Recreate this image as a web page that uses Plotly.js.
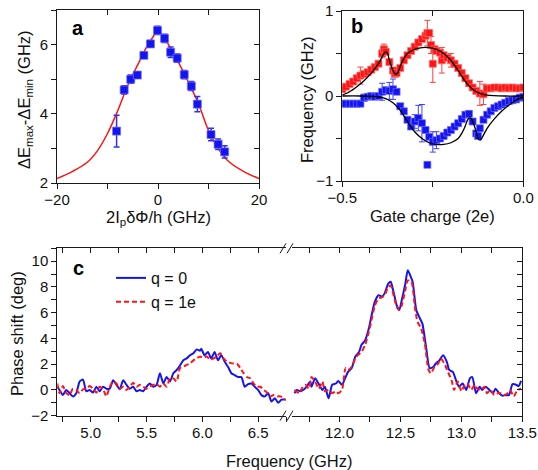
<!DOCTYPE html>
<html><head><meta charset="utf-8">
<script src="https://cdn.plot.ly/plotly-3.0.1.min.js"></script>
<style>html,body{margin:0;padding:0;background:#fff}</style>
</head><body><div id="chart" style="width:538px;height:470px"></div>
<script>
// ---------- Panel a ----------
const aFlux = [-8.2,-6.7,-5.4,-4.1,-2.8,-1.5,-0.1,1.3,2.5,3.8,5.2,6.6,7.8,10.5,11.9,13.2];
const aGap  = [3.50,4.69,5.00,5.12,5.69,6.02,6.41,6.18,5.78,5.61,5.13,4.80,4.28,3.40,3.12,2.90];
const aErr  = [0.46,0.12,0.12,0.08,0.08,0.10,0.12,0.12,0.15,0.12,0.12,0.13,0.22,0.18,0.15,0.18];
const aFitX = [-20,-17,-14,-12,-10,-8,-6,-4,-2,-1,0,1,2,4,6,8,10,12,14,17,20];
const aFitY = [2.13,2.33,2.60,2.93,3.43,4.08,4.82,5.42,6.00,6.22,6.42,6.22,6.02,5.50,4.92,4.30,3.52,2.98,2.62,2.33,2.13];

// ---------- Panel b ----------
const bRedX = [-0.50,-0.49,-0.48,-0.47,-0.46,-0.45,-0.44,-0.43,-0.42,-0.41,-0.40,-0.39,-0.385,-0.38,-0.37,-0.36,-0.355,-0.35,-0.34,-0.33,-0.32,-0.31,-0.30,-0.29,-0.28,-0.27,-0.265,-0.26,-0.255,-0.25,-0.245,-0.24,-0.23,-0.225,-0.22,-0.21,-0.20,-0.19,-0.18,-0.17,-0.16,-0.15,-0.14,-0.13,-0.12,-0.11,-0.10,-0.09,-0.08,-0.07,-0.06,-0.05,-0.04,-0.03,-0.02,-0.01,0.00];
const bRedY = [0.08,0.11,0.14,0.17,0.21,0.24,0.26,0.28,0.31,0.34,0.38,0.50,0.55,0.52,0.40,0.30,0.26,0.27,0.33,0.42,0.48,0.53,0.58,0.63,0.67,0.71,0.74,0.74,0.60,0.38,0.55,0.53,0.51,0.42,0.48,0.45,0.42,0.38,0.33,0.27,0.21,0.15,0.10,0.06,0.03,0.02,0.09,0.09,0.10,0.10,0.09,0.10,0.09,0.10,0.09,0.09,0.10];
const bRedErr = [0.03,0.03,0.03,0.03,0.03,0.10,0.03,0.03,0.03,0.03,0.03,0.05,0.06,0.03,0.03,0.03,0.03,0.03,0.03,0.03,0.03,0.03,0.03,0.03,0.03,0.03,0.15,0.03,0.10,0.22,0.03,0.03,0.03,0.15,0.03,0.03,0.08,0.03,0.03,0.03,0.03,0.03,0.03,0.03,0.14,0.12,0.03,0.03,0.03,0.03,0.03,0.03,0.03,0.03,0.03,0.03,0.03];
const bBlueX = [-0.50,-0.49,-0.48,-0.47,-0.46,-0.45,-0.44,-0.43,-0.42,-0.41,-0.40,-0.39,-0.38,-0.37,-0.36,-0.35,-0.34,-0.33,-0.32,-0.31,-0.30,-0.29,-0.28,-0.27,-0.265,-0.26,-0.25,-0.24,-0.23,-0.22,-0.21,-0.20,-0.19,-0.18,-0.17,-0.16,-0.15,-0.14,-0.13,-0.125,-0.12,-0.11,-0.10,-0.09,-0.08,-0.07,-0.06,-0.05,-0.04,-0.03,-0.02,-0.01,0.00];
const bBlueY = [-0.09,-0.09,-0.09,-0.09,-0.09,-0.09,-0.02,-0.01,0.00,-0.01,0.00,0.05,0.07,0.06,0.08,0.05,-0.12,-0.18,-0.28,-0.36,-0.30,-0.26,-0.32,-0.40,-0.81,-0.48,-0.54,-0.52,-0.50,-0.47,-0.43,-0.40,-0.36,-0.32,-0.27,-0.22,-0.21,-0.30,-0.44,-0.47,-0.38,-0.28,-0.22,-0.18,-0.14,-0.12,-0.10,-0.08,-0.06,-0.05,-0.04,-0.02,-0.01];
const bBlueErr = [0.02,0.02,0.02,0.02,0.02,0.02,0.04,0.03,0.03,0.03,0.03,0.10,0.03,0.10,0.12,0.03,0.03,0.03,0.03,0.03,0.08,0.15,0.22,0.03,0.00,0.03,0.12,0.10,0.03,0.03,0.03,0.03,0.03,0.03,0.03,0.03,0.03,0.03,0.03,0.03,0.03,0.03,0.03,0.03,0.03,0.03,0.03,0.03,0.03,0.03,0.03,0.03,0.03];
const bFitUpX = [-0.50,-0.48,-0.46,-0.44,-0.42,-0.40,-0.39,-0.385,-0.38,-0.375,-0.37,-0.36,-0.355,-0.35,-0.345,-0.34,-0.33,-0.32,-0.30,-0.28,-0.26,-0.24,-0.22,-0.20,-0.18,-0.16,-0.14,-0.12,-0.10,-0.05,0.00];
const bFitUpY = [0.01,0.05,0.11,0.18,0.27,0.38,0.46,0.50,0.52,0.50,0.42,0.30,0.26,0.26,0.29,0.35,0.44,0.50,0.55,0.57,0.57,0.55,0.50,0.42,0.30,0.17,0.08,0.03,0.01,0.00,0.00];
const bFitLoX = [-0.50,-0.45,-0.40,-0.38,-0.36,-0.34,-0.32,-0.30,-0.28,-0.26,-0.24,-0.22,-0.20,-0.18,-0.17,-0.16,-0.155,-0.15,-0.145,-0.14,-0.13,-0.125,-0.12,-0.115,-0.11,-0.10,-0.08,-0.06,-0.04,-0.02,0.00];
const bFitLoY = [0.00,0.00,-0.01,-0.03,-0.08,-0.17,-0.30,-0.42,-0.50,-0.55,-0.57,-0.57,-0.55,-0.50,-0.44,-0.35,-0.29,-0.26,-0.26,-0.30,-0.42,-0.50,-0.52,-0.50,-0.46,-0.38,-0.27,-0.18,-0.11,-0.05,-0.01];

// ---------- Panel c ----------
const cFreqBlueLow = [4.70,4.72,4.75,4.78,4.81,4.84,4.87,4.90,4.93,4.96,4.99,5.02,5.05,5.08,5.11,5.14,5.17,5.20,5.23,5.26,5.29,5.32,5.35,5.38,5.41,5.44,5.47,5.50,5.53,5.56,5.59,5.62,5.65,5.68,5.71,5.74,5.77,5.80,5.83,5.86,5.89,5.92,5.95,5.98,5.99,6.02,6.05,6.08,6.11,6.14,6.17,6.20,6.23,6.26,6.29,6.32,6.35,6.38,6.41,6.44,6.47,6.50,6.53,6.56,6.59,6.62,6.65,6.68,6.71,6.74];
const cPhaseBlueLow = [0.25,0,-0.4,0,-0.25,-0.5,-0.25,0.65,0.8,-0.1,0,-0.2,0.25,-0.1,0.25,0.1,0.1,0.75,0.4,0.05,0.75,0.4,0.1,0.25,-0.1,0,-0.1,0.25,0.5,0.25,0.4,1.3,0.5,1.0,0.65,1.3,1.55,1.9,2.3,2.45,2.7,2.85,3.15,3.05,3.2,2.7,2.95,2.45,2.95,2.3,2.7,2.2,1.8,1.3,1.15,1.0,1.0,0.25,0.45,0.5,0.25,0,-0.4,-0.5,-0.25,-0.9,-0.65,-1.0,-0.75,-0.75];
const cFreqRedLow = [4.70,4.72,4.75,4.78,4.81,4.84,4.87,4.90,4.93,4.96,4.99,5.02,5.05,5.08,5.11,5.14,5.17,5.20,5.23,5.26,5.29,5.32,5.35,5.38,5.41,5.44,5.47,5.50,5.53,5.56,5.59,5.62,5.65,5.68,5.71,5.74,5.77,5.80,5.83,5.86,5.89,5.92,5.95,5.98,6.01,6.04,6.07,6.10,6.13,6.16,6.19,6.22,6.25,6.28,6.31,6.34,6.37,6.40,6.43,6.46,6.49,6.52,6.55,6.58,6.61,6.64,6.67,6.70,6.73,6.75];
const cPhaseRedLow = [0.5,-0.25,0.3,-0.25,-0.4,0.1,0,-0.25,0.05,0.1,0.3,0.1,-0.2,0.25,0.05,-0.5,0.25,0.65,0.5,0.1,0.25,0,0.25,0.55,0.25,0.4,0.25,0.1,0.25,0.4,0.45,0.25,0.5,0.25,0.9,0.9,0.65,1.7,1.8,1.95,2.05,2.3,2.45,2.6,2.5,2.6,2.35,2.45,2.6,2.85,2.45,2.2,2.1,2.05,2.05,1.7,1.3,1.0,0.9,0.5,0.25,0.25,0,-0.2,-0.5,-0.4,-0.5,-0.5,-0.65,-0.8];
const cFreqBlueHigh = [11.63,11.65,11.68,11.71,11.73,11.76,11.77,11.80,11.83,11.86,11.88,11.91,11.94,11.97,11.99,12.02,12.05,12.07,12.10,12.13,12.16,12.18,12.21,12.24,12.26,12.29,12.32,12.35,12.37,12.40,12.42,12.44,12.47,12.49,12.51,12.54,12.56,12.58,12.60,12.63,12.66,12.68,12.71,12.74,12.77,12.79,12.82,12.85,12.88,12.90,12.93,12.96,12.98,13.01,13.04,13.07,13.09,13.12,13.15,13.17,13.20,13.23,13.26,13.28,13.31,13.34,13.36,13.39,13.42,13.45,13.47,13.49];
const cPhaseBlueHigh = [-0.25,0,-0.1,0.05,0.25,0.65,0.25,0.9,0.45,0,0.25,-0.65,0.4,0.5,0.7,0.4,1.0,1.4,1.7,2.6,2.95,3.5,3.85,4.75,5.65,6.85,7.35,7.25,7.5,8.25,8.4,7.75,6.55,6.2,6.95,8.25,9.3,8.9,8.4,6.2,5.55,5.15,3.35,1.7,1.8,2.05,2.3,2.7,2.2,1.55,1.4,0.65,0.25,0.5,0,0.9,1.0,-0.25,0.25,0,0.25,0,-0.25,0.1,-0.25,-0.45,-0.4,-0.4,0.45,0.4,0.3,0.7];
const cFreqRedHigh = [11.63,11.67,11.69,11.72,11.75,11.77,11.80,11.83,11.86,11.88,11.91,11.94,11.97,11.99,12.02,12.05,12.07,12.10,12.13,12.15,12.18,12.21,12.24,12.26,12.29,12.32,12.35,12.37,12.40,12.42,12.44,12.47,12.49,12.51,12.54,12.56,12.59,12.62,12.64,12.67,12.70,12.73,12.75,12.78,12.81,12.83,12.86,12.89,12.92,12.94,12.97,13.00,13.02,13.05,13.08,13.11,13.13,13.16,13.19,13.21,13.24,13.27,13.30,13.32,13.35,13.38,13.40,13.43,13.46,13.49];
const cPhaseRedHigh = [0,-0.25,0.1,0.4,0.1,1.0,0.65,0.1,0.65,-0.1,0,-0.25,-0.1,-0.25,0,1.7,1.55,1.8,2.45,2.7,2.95,3.5,4.5,5.3,6.55,7.1,7.2,7.35,8.0,8.1,7.5,6.45,6.2,6.55,7.75,8.5,8.4,6.3,5.3,4.75,3.6,1.55,1.3,1.8,2.05,2.45,2.05,1.4,0.75,0,0.65,-0.1,0.25,0.5,0,0.4,0.1,0,0.25,-0.25,0,-0.4,-0.25,-0.25,-0.4,-0.25,0,-0.5,0,0.1];
const legendNames = ['q = 0', 'q = 1e'];

// ---------- helpers (layout only) ----------
const W = 538, H = 470;
const fx = p => p / W;
const fy = p => 1 - p / H;
const FONT = 'Liberation Sans, Arial, sans-serif';
const INK = '#1a1a1a';
function ax(o) {
  return Object.assign({
    showline: true, linecolor: INK, linewidth: 1, ticks: 'outside', ticklen: 5, tickwidth: 1,
    tickcolor: INK, tickfont: {family: FONT, size: 15, color: '#111'}, showgrid: false,
    zeroline: false, fixedrange: true
  }, o);
}
function inner(o) {
  return Object.assign({
    showline: false, ticks: 'inside', ticklen: 5, tickwidth: 1, tickcolor: INK,
    showticklabels: false, showgrid: false, zeroline: false, fixedrange: true
  }, o);
}
// carrier trace so that a tick-only overlay axis gets drawn (nothing visible)
function carrier(xs, ys, xa, ya) {
  return {x: xs, y: ys, xaxis: xa, yaxis: ya, mode: 'lines', opacity: 0, line: {width: 0.1, color: 'rgba(0,0,0,0)'},
    showlegend: false, hoverinfo: 'skip'};
}
const BLUE = '#1414f0', RED = '#ff1414';

const traces = [
  {x: aFitX, y: aFitY, xaxis: 'x', yaxis: 'y', mode: 'lines', line: {color: RED, width: 1.5, shape: 'spline', smoothing: 1}, showlegend: false, hoverinfo: 'skip'},
  {x: aFlux, y: aGap, xaxis: 'x', yaxis: 'y', mode: 'markers', showlegend: false,
   marker: {symbol: 'square', size: 8, color: BLUE, line: {color: 'rgba(110,110,255,0.7)', width: 1}},
   error_y: {type: 'data', array: aErr, visible: true, color: '#3030e8', thickness: 1.5, width: 3}},

  {x: bRedX, y: bRedY, xaxis: 'x2', yaxis: 'y2', mode: 'markers', showlegend: false,
   marker: {symbol: 'square', size: 7, color: RED, line: {color: 'rgba(255,110,110,0.7)', width: 1}},
   error_y: {type: 'data', array: bRedErr, visible: true, color: '#ff4040', thickness: 1, width: 3}},
  {x: bBlueX, y: bBlueY, xaxis: 'x2', yaxis: 'y2', mode: 'markers', showlegend: false,
   marker: {symbol: 'square', size: 7, color: BLUE, line: {color: 'rgba(110,110,255,0.7)', width: 1}},
   error_y: {type: 'data', array: bBlueErr, visible: true, color: '#4040ff', thickness: 1, width: 3}},
  {x: bFitUpX, y: bFitUpY, xaxis: 'x2', yaxis: 'y2', mode: 'lines', line: {color: '#000', width: 1.3, shape: 'spline', smoothing: 0.8}, showlegend: false},
  {x: bFitLoX, y: bFitLoY, xaxis: 'x2', yaxis: 'y2', mode: 'lines', line: {color: '#000', width: 1.3, shape: 'spline', smoothing: 0.8}, showlegend: false},

  {x: cFreqBlueLow, y: cPhaseBlueLow, xaxis: 'x3', yaxis: 'y3', mode: 'lines', name: legendNames[0], legendgroup: 'q0',
   line: {color: BLUE, width: 2, shape: 'spline', smoothing: 0.6}},
  {x: cFreqRedLow, y: cPhaseRedLow, xaxis: 'x3', yaxis: 'y3', mode: 'lines', name: legendNames[1], legendgroup: 'q1',
   line: {color: RED, width: 2, dash: '5px,3px', shape: 'spline', smoothing: 0.6}},
  {x: cFreqBlueHigh, y: cPhaseBlueHigh, xaxis: 'x4', yaxis: 'y3', mode: 'lines', name: legendNames[0], legendgroup: 'q0', showlegend: false,
   line: {color: BLUE, width: 2, shape: 'spline', smoothing: 0.6}},
  {x: cFreqRedHigh, y: cPhaseRedHigh, xaxis: 'x4', yaxis: 'y3', mode: 'lines', name: legendNames[1], legendgroup: 'q1', showlegend: false,
   line: {color: RED, width: 2, dash: '5px,3px', shape: 'spline', smoothing: 0.6}},

  carrier(aFlux, aGap, 'x5', 'y5'),
  carrier(bRedX, bRedY, 'x6', 'y6'),
  carrier(cFreqBlueLow, cPhaseBlueLow, 'x7', 'y3'),
  carrier(cFreqBlueHigh, cPhaseBlueHigh, 'x8', 'y4')
];

const aRx = [-20, 20], aRy = [2, 7], bRx = [-0.5, 0], bRy = [-1, 1], cRy = [-2, 11];
const cRxL = [4.7, 6.75], cRxH = [11.61, 13.5];

function brk(xp, yp) {
  const s = {type: 'line', xref: 'paper', yref: 'paper', line: {color: INK, width: 1}};
  return [
    Object.assign({}, s, {x0: fx(xp - 3), y0: fy(yp + 5), x1: fx(xp + 3), y1: fy(yp - 5)}),
    Object.assign({}, s, {x0: fx(xp + 4), y0: fy(yp + 5), x1: fx(xp + 10), y1: fy(yp - 5)})
  ];
}

function ann(text, xp, yp, o) {
  return Object.assign({text: text, x: fx(xp), y: fy(yp), xref: 'paper', yref: 'paper', showarrow: false,
    xanchor: 'center', yanchor: 'middle', font: {family: FONT, size: 16.5, color: '#111'}}, o || {});
}

const layout = {
  width: W, height: H, margin: {l: 0, r: 0, t: 0, b: 0},
  paper_bgcolor: '#fff', plot_bgcolor: 'rgba(0,0,0,0)',
  font: {family: FONT, color: '#111'},
  xaxis: ax({domain: [fx(57), fx(259)], anchor: 'y', range: aRx, tick0: -20, dtick: 20, mirror: true, ticklabelstandoff: -2,
    minor: {dtick: 10, ticks: 'outside', ticklen: 5, tickcolor: INK}}),
  yaxis: ax({domain: [fy(183), fy(10)], anchor: 'x', range: aRy, tick0: 2, dtick: 2, mirror: true,
    minor: {dtick: 1, ticks: 'outside', ticklen: 5, tickcolor: INK}}),
  xaxis5: inner({overlaying: 'x', anchor: 'y', side: 'top', range: aRx, tick0: -20, dtick: 10}),
  yaxis5: inner({overlaying: 'y', anchor: 'x', side: 'right', range: aRy, tick0: 2, dtick: 1}),

  xaxis2: ax({domain: [fx(342.3), fx(523.3)], anchor: 'y2', range: bRx, tick0: -0.5, dtick: 0.5, tickformat: '.1f', mirror: true, ticklabelstandoff: -2,
    minor: {dtick: 0.25, ticks: 'outside', ticklen: 5, tickcolor: INK}}),
  yaxis2: ax({domain: [fy(181), fy(11)], anchor: 'x2', range: bRy, tick0: -1, dtick: 1, mirror: true,
    minor: {dtick: 0.5, ticks: 'outside', ticklen: 5, tickcolor: INK}}),
  xaxis6: inner({overlaying: 'x2', anchor: 'y2', side: 'top', range: bRx, tick0: -0.5, dtick: 0.25}),
  yaxis6: inner({overlaying: 'y2', anchor: 'x2', side: 'right', range: bRy, tick0: -1, dtick: 0.5}),

  xaxis3: ax({domain: [fx(57.3), fx(286)], anchor: 'y3', range: cRxL, tick0: 5, dtick: 0.5, tickformat: '.1f', mirror: true, ticklabelstandoff: -2,
    minor: {dtick: 0.25, ticks: 'outside', ticklen: 5, tickcolor: INK}}),
  xaxis4: ax({domain: [fx(292), fx(522.3)], anchor: 'y3', range: cRxH, tick0: 12, dtick: 0.5, tickformat: '.1f', mirror: true, ticklabelstandoff: -2,
    minor: {dtick: 0.25, ticks: 'outside', ticklen: 5, tickcolor: INK}}),
  yaxis3: ax({domain: [fy(415.7), fy(248.3)], anchor: 'x3', range: cRy, tick0: 0, dtick: 2,
    minor: {dtick: 1, ticks: 'outside', ticklen: 5, tickcolor: INK}}),
  yaxis4: inner({overlaying: 'y3', anchor: 'x4', side: 'right', range: cRy, tick0: 0, dtick: 1, showline: true, linecolor: INK, linewidth: 1}),
  xaxis7: inner({overlaying: 'x3', anchor: 'y3', side: 'top', range: cRxL, tick0: 5, dtick: 0.25}),
  xaxis8: inner({overlaying: 'x4', anchor: 'y3', side: 'top', range: cRxH, tick0: 12, dtick: 0.25}),

  legend: {x: fx(111), y: fy(261), xanchor: 'left', yanchor: 'top', bgcolor: 'rgba(0,0,0,0)',
    font: {family: FONT, size: 16, color: '#111'}, tracegroupgap: 0, itemwidth: 30},

  shapes: [].concat(brk(283, 248.3), brk(283, 415.7)),
  annotations: [
    ann('<b>a</b>', 70, 28, {xanchor: 'left', font: {family: FONT, size: 20, color: '#000'}}),
    ann('<b>b</b>', 349, 26, {xanchor: 'left', font: {family: FONT, size: 20, color: '#000'}}),
    ann('<b>c</b>', 71, 268, {xanchor: 'left', font: {family: FONT, size: 20, color: '#000'}}),
    ann('ΔE<sub>max</sub>-ΔE<sub>min</sub> (GHz)', 25, 100, {textangle: -90}),
    ann('2I<sub>p</sub>δΦ/h (GHz)', 158, 218),
    ann('Frequency (GHz)', 307, 100, {textangle: -90}),
    ann('Gate charge (2e)', 432, 216),
    ann('Phase shift (deg)', 17, 334, {textangle: -90}),
    ann('Frequency (GHz)', 289, 461)
  ]
};

Plotly.newPlot('chart', traces, layout, {staticPlot: true, displayModeBar: false});
</script></body></html>
